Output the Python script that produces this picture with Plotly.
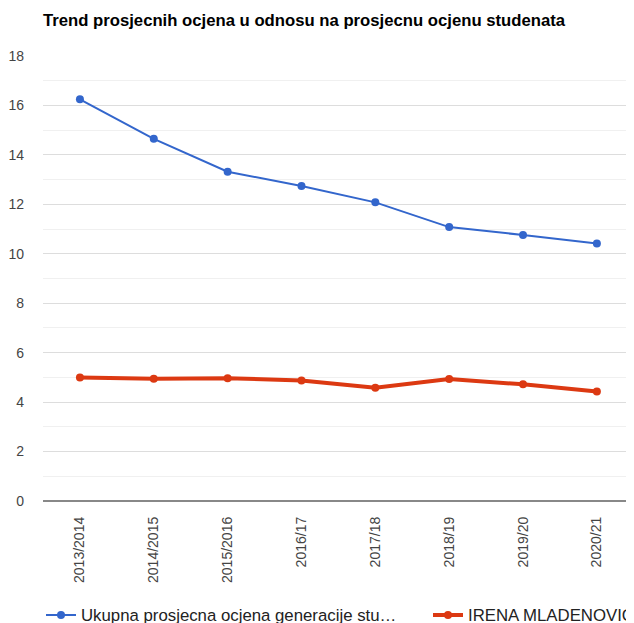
import plotly.graph_objects as go

categories = ["2013/2014", "2014/2015", "2015/2016", "2016/17", "2017/18", "2018/19", "2019/20", "2020/21"]
generation_avg = [16.25, 14.65, 13.32, 12.74, 12.08, 11.08, 10.76, 10.42]
student_avg = [5.0, 4.95, 4.97, 4.87, 4.58, 4.93, 4.72, 4.43]
series_names = ["Ukupna prosjecna ocjena generacije stu\u2026", "IRENA MLADENOVIC"]
title_text = "Trend prosjecnih ocjena u odnosu na prosjecnu ocjenu studenata"

# page body has an 8px default margin; figure is sized to end exactly at the window edge
W, H = 626, 615
ML, MR, MT, MB = 35, 0, 48, 122
FONT = "Arial, Liberation Sans, sans-serif"

fig = go.Figure()
fig.add_trace(go.Scatter(
    x=categories, y=generation_avg, name=series_names[0], mode="lines+markers",
    line=dict(color="#3366cc", width=2), marker=dict(color="#3366cc", size=8),
    legend="legend",
))
fig.add_trace(go.Scatter(
    x=categories, y=student_avg, name=series_names[1], mode="lines+markers",
    line=dict(color="#dc3912", width=4), marker=dict(color="#dc3912", size=8),
    legend="legend2",
))

plot_w = W - ML - MR
step = 74.1
x_hi = -0.5 + (plot_w + 2) / step

leg_y = 1 - 607 / H

fig.update_layout(
    width=W, height=H,
    margin=dict(l=ML, r=MR, t=MT, b=MB, pad=0, autoexpand=False),
    paper_bgcolor="white", plot_bgcolor="white",
    font=dict(family=FONT, size=14, color="#444444"),
    title=dict(text="<b>" + title_text + "</b>", x=ML / W, xref="container", xanchor="left",
               y=1 - 12 / H, yref="container", yanchor="middle",
               font=dict(family=FONT, size=16.7, color="#000000")),
    xaxis=dict(range=[-0.5, x_hi], showgrid=False, zeroline=False, showline=False,
               tickangle=-90, ticks="", ticklabelstandoff=12, automargin=False,
               tickfont=dict(size=14, color="#444444"), fixedrange=True),
    yaxis=dict(range=[0, 18], dtick=2, tick0=0, showgrid=True, gridcolor="#dddddd", gridwidth=1,
               minor=dict(dtick=1, showgrid=True, gridcolor="#f0f0f0", gridwidth=1),
               zeroline=True, zerolinecolor="#888888", zerolinewidth=2,
               showline=False, ticks="", ticklabelstandoff=18, automargin=False,
               tickfont=dict(size=14, color="#444444"), fixedrange=True),
    legend=dict(orientation="h", x=33 / W, xref="container", xanchor="left",
                y=leg_y, yref="container", yanchor="middle",
                font=dict(size=16.8, color="#222222"), bgcolor="rgba(0,0,0,0)", itemwidth=30),
    legend2=dict(orientation="h", x=420 / W, xref="container", xanchor="left",
                 y=leg_y, yref="container", yanchor="middle",
                 font=dict(size=16.8, color="#222222"), bgcolor="rgba(0,0,0,0)", itemwidth=30),
    showlegend=True,
)

fig.write_html("out.html")
